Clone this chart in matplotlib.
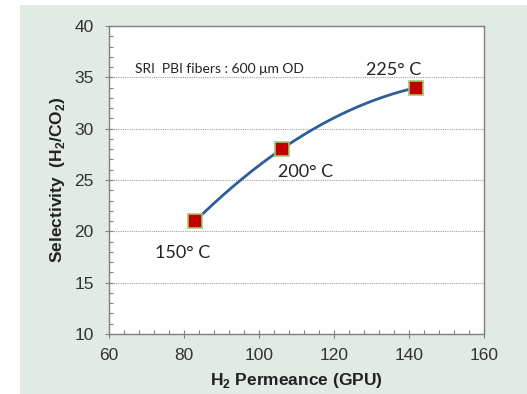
import numpy as np
import matplotlib
matplotlib.use("Agg")
import matplotlib.pyplot as plt
from matplotlib.patches import Rectangle
from matplotlib.ticker import MultipleLocator

# Data
permeance = [83, 106, 142]
selectivity = [21, 28, 34]
temp_labels = ["150\u00b0 C", "200\u00b0 C", "225\u00b0 C"]
x_ticks = [60, 80, 100, 120, 140, 160]
y_ticks = [10, 15, 20, 25, 30, 35, 40]

plt.rcParams["mathtext.fontset"] = "custom"
plt.rcParams["mathtext.bf"] = "Liberation Sans:bold"
plt.rcParams["mathtext.rm"] = "Liberation Sans"

fig = plt.figure(figsize=(5.27, 3.94), dpi=100, facecolor="white")
fig.add_artist(Rectangle((20/527, 0), 1 - 20/527, 1 - 5/394, transform=fig.transFigure,
                         facecolor="#e2eae4", edgecolor="none", zorder=-5))
ax = fig.add_axes([109/527, 1 - 334/394, 375/527, 308/394])
ax.set_zorder(1)
ax.set_facecolor("white")

# smooth trend line (Excel-style smoothed)
coef = np.polyfit(permeance, selectivity, 2)
xs = np.linspace(permeance[0], permeance[-1], 200)
ax.plot(xs, np.polyval(coef, xs), color="#2e5e9a", lw=2, zorder=3)
ax.plot(permeance, selectivity, ls="none", marker="s", ms=10, mfc="#c00000",
        mec="#a8c46a", mew=1.2, zorder=4)

ax.set_xlim(60, 160)
ax.set_ylim(10, 40)
ax.set_xticks(x_ticks)
ax.set_yticks(y_ticks)
ax.xaxis.set_minor_locator(MultipleLocator(4))
ax.yaxis.set_minor_locator(MultipleLocator(1))
ax.tick_params(which="major", direction="inout", length=6, width=0.8, color="#808080",
               labelsize=12.5, labelcolor="#333333")
ax.tick_params(axis="x", which="major", pad=7)
ax.tick_params(axis="y", which="major", pad=8)
ax.tick_params(which="minor", direction="in", length=3, width=0.8, color="#808080")
for lab in ax.get_xticklabels() + ax.get_yticklabels():
    lab.set_family("Liberation Sans")
for s in ax.spines.values():
    s.set_color("#808080")
    s.set_linewidth(1)

ax.yaxis.grid(True, which="major", color="#a0a0a0", ls=(0, (1, 1)), lw=0.8)
ax.set_axisbelow(True)

ax.set_xlabel("H$_\\mathbf{2}$ Permeance (GPU)", fontsize=12.5, fontweight="bold",
              family="Liberation Sans", labelpad=6, color="#222222")
ax.set_ylabel("Selectivity  (H$_\\mathbf{2}$/CO$_\\mathbf{2}$)", fontsize=12.5, fontweight="bold",
              family="Liberation Sans", labelpad=5, color="#222222")

ax.text(66.9, 35.8, "SRI  PBI fibers : 600 \u03bcm OD", fontsize=10, family="Lato",
        va="center", ha="left", color="#222222")
offsets = [(-3.3, -3.1), (6.3, -2.2), (-6, 1.7)]
for x, y, t, (dx, dy) in zip(permeance, selectivity, temp_labels, offsets):
    ax.text(x + dx, y + dy, t, fontsize=13, family="Lato", ha="center", va="center",
            color="#222222")

fig.savefig("out.png", dpi=100, facecolor="white")
